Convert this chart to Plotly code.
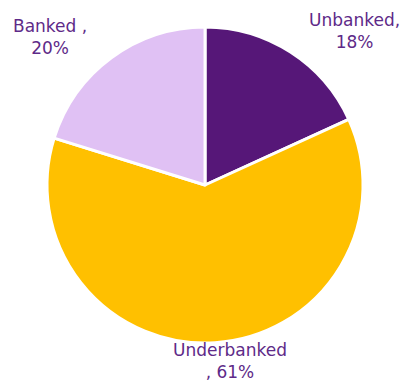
import plotly.graph_objects as go

# Share of households by banking status
categories = ["Unbanked", "Underbanked", "Banked"]
shares = [18, 61, 20]
label_text = ["Unbanked,<br>18%", "Underbanked<br>, 61%", "Banked ,<br>20%"]
colors = ["#561778", "#FFC000", "#E0C1F4"]

# label anchor points (paper coordinates) for each slice
label_x = [0.874, 0.567, 0.123]
label_y = [0.919, 0.058, 0.903]

fig = go.Figure(
    go.Pie(
        labels=categories,
        values=shares,
        textinfo="none",
        sort=False,
        direction="clockwise",
        rotation=0,
        marker=dict(colors=colors, line=dict(color="white", width=3)),
        hoverinfo="label+value",
        domain=dict(x=[0.02, 0.99], y=[0.1044, 0.9295]),
        showlegend=False,
    )
)

for txt, x, y in zip(label_text, label_x, label_y):
    fig.add_annotation(
        text=txt,
        x=x,
        y=y,
        xref="paper",
        yref="paper",
        xanchor="center",
        yanchor="middle",
        showarrow=False,
        align="center",
        font=dict(family="DejaVu Sans", size=17, color="#5E2A88"),
    )

fig.update_layout(
    width=406,
    height=383,
    margin=dict(l=0, r=0, t=0, b=0),
    paper_bgcolor="white",
    plot_bgcolor="white",
)

fig.write_html("out.html")
